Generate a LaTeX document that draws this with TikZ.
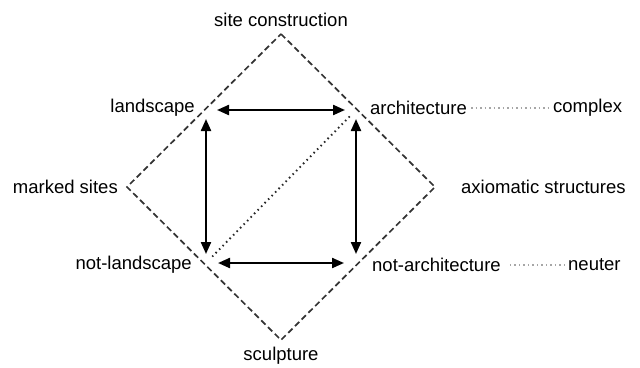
\documentclass[tikz,border=0pt]{standalone}
\usepackage{fontspec}
\setmainfont{Liberation Sans}
\usetikzlibrary{arrows.meta,positioning}

\begin{document}
\begin{tikzpicture}[
    x=1pt, y=-1pt,
    lbl/.style={font=\fontsize{18.5}{21}\selectfont, inner sep=1pt, text=black},
    frame/.style={draw=black!80, line width=1.7pt, dash pattern=on 6pt off 3.5pt},
    arrow/.style={{Triangle[length=12pt,width=10pt]}-{Triangle[length=12pt,width=10pt]}, line width=2.2pt, black},
    diag/.style={black!85, line width=1.9pt, dash pattern=on 1.5pt off 3.5pt},
    link/.style={black!35, line width=1.8pt, dash pattern=on 1.5pt off 3pt}
]
\useasboundingbox (0,0) rectangle (640,367);

% Diamond vertices
\coordinate (top) at (281,34);
\coordinate (left) at (127,187);
\coordinate (right) at (435,187);
\coordinate (bottom) at (281,340);

% Square corners
\coordinate (ls) at (206,110);
\coordinate (ar) at (356,110);
\coordinate (nl) at (206,263);
\coordinate (na) at (356,263);

% Diamond
\draw[frame] (top) -- (right) -- (bottom) -- (left) -- cycle;

% Labels
\node[lbl, above=6pt of top] (sitec) {site construction};
\node[lbl, below=6pt of bottom] (sculpt) {sculpture};
\node[lbl, anchor=east] (marked) at (119,187) {marked sites};
\node[lbl, anchor=west] (axiom) at (460,187) {axiomatic structures};
\node[lbl, anchor=east] (land) at (196,108) {landscape};
\node[lbl, anchor=west] (arch) at (369,108) {architecture};
\node[lbl, anchor=east] (notland) at (193,265) {not-landscape};
\node[lbl, anchor=west] (notarch) at (371,265) {not-architecture};
\node[lbl, anchor=west] (compl) at (552,108) {complex};
\node[lbl, anchor=west] (neut) at (567,265) {neuter};

% Arrows
\draw[arrow, shorten <=11pt, shorten >=11pt] (ls) -- (ar);
\draw[arrow, shorten <=12pt, shorten >=12pt] (nl) -- (na);
\draw[arrow, shorten <=9pt, shorten >=9pt] (ls) -- (nl);
\draw[arrow, shorten <=9pt, shorten >=9pt] (ar) -- (na);

% Diagonal
\draw[diag, shorten <=9pt, shorten >=9pt] (ar) -- (nl);

% Side links
\draw[link] (arch.east) ++(3,0) -- ([xshift=-3pt]compl.west);
\draw[link] (notarch.east) ++(8,0) -- ([xshift=-2pt]neut.west);

\end{tikzpicture}
\end{document}
